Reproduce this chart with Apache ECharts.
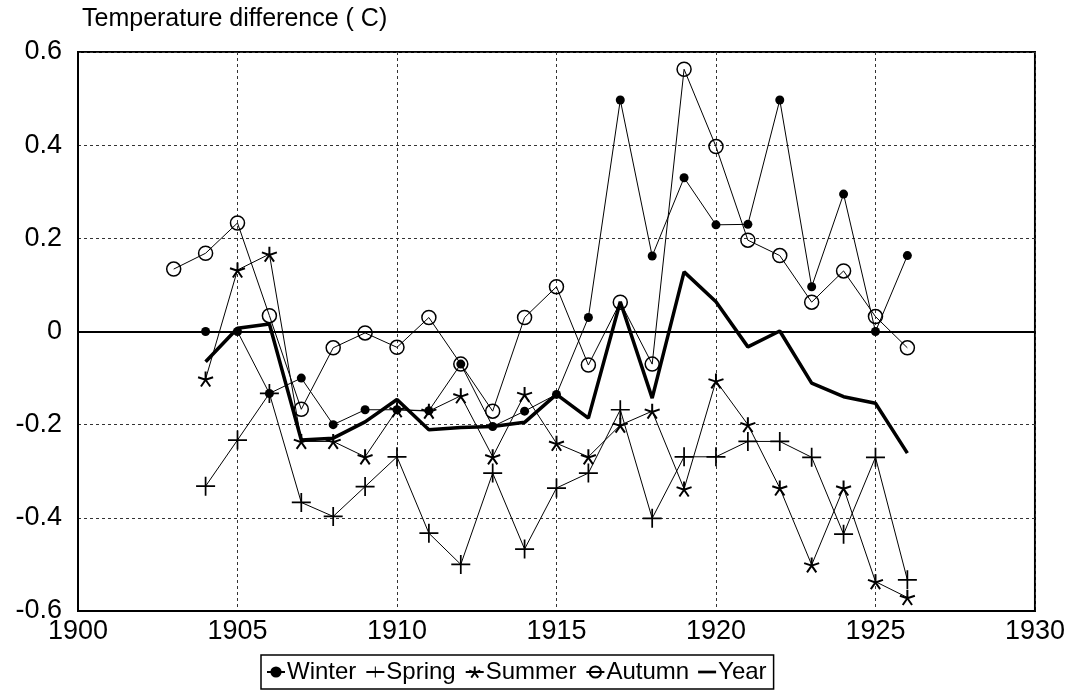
<!DOCTYPE html>
<html>
<head>
<meta charset="utf-8">
<script src="https://cdn.jsdelivr.net/npm/echarts@6/dist/echarts.min.js"></script>
<style>
  html, body { margin: 0; padding: 0; background: #fff; }
  #main { width: 1068px; height: 698px; }
</style>
</head>
<body>
<div id="main"></div>
<script>
const years = [1903, 1904, 1905, 1906, 1907, 1908, 1909, 1910, 1911, 1912, 1913, 1914,
  1915, 1916, 1917, 1918, 1919, 1920, 1921, 1922, 1923, 1924, 1925, 1926];
const winter = [null, 0, 0, -0.133, -0.10, -0.20, -0.168, -0.168, -0.17, -0.07, -0.204, -0.171,
  -0.135, 0.03, 0.497, 0.162, 0.33, 0.229, 0.23, 0.497, 0.096, 0.295, 0, 0.163];
const spring = [null, -0.332, -0.233, -0.133, -0.367, -0.397, -0.333, -0.269, -0.433, -0.50, -0.304, -0.467,
  -0.336, -0.304, -0.168, -0.401, -0.269, -0.269, -0.236, -0.236, -0.270, -0.435, -0.270, -0.533];
const summer = [null, -0.102, 0.132, 0.166, -0.236, -0.236, -0.269, -0.168, -0.171, -0.138, -0.269, -0.135,
  -0.240, -0.269, -0.201, -0.171, -0.338, -0.106, -0.20, -0.336, -0.501, -0.336, -0.537, -0.571];
const autumn = [0.134, 0.168, 0.233, 0.034, -0.167, -0.035, -0.003, -0.034, 0.03, -0.07, -0.171, 0.03,
  0.096, -0.072, 0.063, -0.070, 0.563, 0.397, 0.196, 0.163, 0.063, 0.130, 0.032, -0.035];
const yearMean = [null, -0.065, 0.007, 0.016, -0.233, -0.229, -0.194, -0.146, -0.211, -0.206, -0.204, -0.195,
  -0.135, -0.186, 0.064, -0.143, 0.128, 0.064, -0.033, 0.001, -0.111, -0.140, -0.154, -0.261];
const seriesNames = ['Winter', 'Spring', 'Summer', 'Autumn', 'Year'];

const font = '"Liberation Sans", Arial, Helvetica, sans-serif';
const plusPath = 'path://M0,10H22V12H0Z M10,0H12V22H10Z';
const starPath = 'path://M10,10L10,0M10,10L19.5,6.9M10,10L0.5,6.9M10,10L15.9,18.1M10,10L4.1,18.1';

function pairs(vals) {
  const out = [];
  vals.forEach((v, i) => { if (v !== null) out.push([years[i], v]); });
  return out;
}

const chart = echarts.init(document.getElementById('main'));
chart.setOption({
  animation: false,
  backgroundColor: '#fff',
  textStyle: { fontFamily: font, color: '#000' },
  graphic: [{
    type: 'text', left: 82, top: 7,
    style: { text: 'Temperature difference ( C)', font: '25px ' + font, fill: '#000' }
  }],
  grid: {
    left: 78, top: 52, right: 31, bottom: 87,
    show: true, borderColor: '#000', borderWidth: 2
  },
  legend: {
    data: [
      { name: 'Winter' }, { name: 'Spring' }, { name: 'Summer' }, { name: 'Autumn' },
      { name: 'Year', icon: 'path://M0,0H20V3H0Z' }
    ],
    left: 261, top: 655,
    padding: [5, 7, 5, 5],
    borderColor: '#000', borderWidth: 1.5,
    itemGap: 9, itemWidth: 18, itemHeight: 14,
    textStyle: { fontSize: 24, fontFamily: font, color: '#000', padding: [0, 0, 0, -3] }
  },
  xAxis: {
    type: 'value', min: 1900, max: 1930, interval: 5,
    axisLine: { show: true, onZero: false, lineStyle: { color: '#000', width: 2 } },
    axisTick: { show: false },
    axisLabel: { fontSize: 27, color: '#000', margin: 7, fontFamily: font, formatter: v => String(v) },
    splitLine: { show: true, lineStyle: { color: '#333', type: [3, 3], width: 1 } }
  },
  yAxis: {
    type: 'value', min: -0.6, max: 0.6, interval: 0.2,
    axisLine: { show: true, lineStyle: { color: '#000', width: 2 } },
    axisTick: { show: false },
    axisLabel: {
      fontSize: 27, color: '#000', margin: 16, fontFamily: font,
      formatter: v => (Math.abs(v) < 1e-9 ? '0' : (+v.toFixed(1)).toString())
    },
    splitLine: { show: true, lineStyle: { color: '#333', type: [3, 3], width: 1 } }
  },
  series: [
    {
      name: 'Autumn', type: 'line', data: pairs(autumn), z: 2,
      symbol: 'circle', symbolSize: 14,
      lineStyle: { color: '#000', width: 1 },
      itemStyle: { color: 'rgba(255,255,255,0)', borderColor: '#000', borderWidth: 1.5 }
    },
    {
      name: 'Spring', type: 'line', data: pairs(spring), z: 3,
      symbol: plusPath, symbolSize: 19,
      lineStyle: { color: '#000', width: 1 },
      itemStyle: { color: '#000', borderColor: '#000', borderWidth: 0 }
    },
    {
      name: 'Summer', type: 'line', data: pairs(summer), z: 4,
      symbol: starPath, symbolSize: 15,
      lineStyle: { color: '#000', width: 1 },
      itemStyle: { color: '#000', borderColor: '#000', borderWidth: 2 }
    },
    {
      name: 'Winter', type: 'line', data: pairs(winter), z: 5,
      symbol: 'circle', symbolSize: 9,
      lineStyle: { color: '#000', width: 1 },
      itemStyle: { color: '#000', borderColor: '#000', borderWidth: 0 }
    },
    {
      name: 'Year', type: 'line', data: pairs(yearMean), z: 6,
      symbol: 'none',
      lineStyle: { color: '#000', width: 3.5 },
      itemStyle: { color: '#000' },
      markLine: {
        silent: true, symbol: 'none', label: { show: false },
        lineStyle: { color: '#000', width: 2, type: 'solid' },
        data: [{ yAxis: 0 }]
      }
    }
  ]
});
</script>
</body>
</html>
